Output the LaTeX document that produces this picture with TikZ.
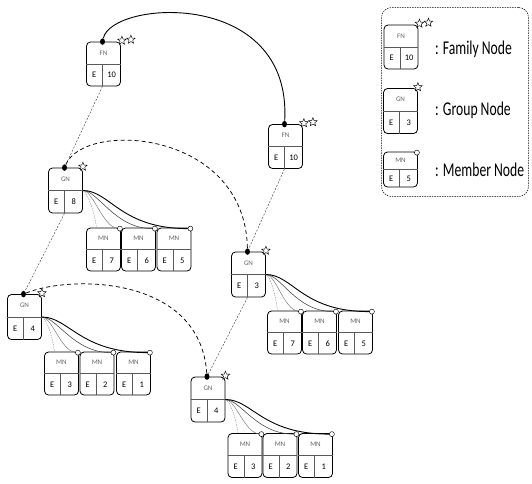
\documentclass[tikz,border=0pt]{standalone}
\usepackage{fontspec}
\setmainfont{Carlito}
\usetikzlibrary{calc,shapes.geometric}

\tikzset{
  card/.style={draw=black, line width=0.8pt, rounded corners=4pt, minimum width=34pt,
    minimum height=45pt, inner sep=0pt, fill=white},
  divline/.style={draw=black!65, line width=0.5pt},
  tag/.style={font=\fontsize{7}{8}\selectfont, text=black!60, inner sep=0pt},
  num/.style={font=\fontsize{8.5}{9}\selectfont, inner sep=0pt},
  headdot/.style={ellipse, fill=black, minimum width=5pt, minimum height=6.5pt, inner sep=0pt},
  badge/.style={star, star points=5, star point ratio=2.3, draw=black, line width=0.45pt,
    fill=white, minimum size=9pt, inner sep=0pt},
  ring/.style={circle, draw=black, line width=0.45pt, fill=white, minimum size=5pt, inner sep=0pt},
  treelink/.style={dash pattern=on 2pt off 1.5pt, line width=0.45pt, black!75},
  peerlink/.style={dash pattern=on 4pt off 3pt, line width=0.75pt},
  famlink/.style={line width=0.9pt},
  fan1/.style={dash pattern=on 1.5pt off 1pt, line width=0.4pt, black!45},
  fan2/.style={line width=0.45pt, black!55},
  fan3/.style={line width=0.55pt, black!75},
  fan4/.style={line width=0.9pt, black},
  legtext/.style={anchor=west, inner sep=0pt, font=\fontsize{19.5}{20}\selectfont},
}

% record box: name, x, y, height, tag, number
\newcommand\recbox[6]{%
  \node[card, minimum height=#4pt] (#1) at (#2,#3) {};
  \draw[divline] (#1.west) -- (#1.east);
  \draw[divline] ([xshift=-1pt]#1.center) -- ([xshift=-1pt]#1.south);
  \node[tag] at ($(#1.north)!0.5!(#1.center)$) {#5};
  \node[num] at ($(#1.south west)!0.5!([xshift=-1pt]#1.center)$) {E};
  \node[num] at ($(#1.south east)!0.5!([xshift=-1pt]#1.center)$) {#6};
}
% family box with two stars
\newcommand\famcard[4]{%
  \recbox{#1}{#2}{#3}{44}{FN}{#4}
  \node[badge] (#1s) at ([xshift=1pt,yshift=1pt]#1.north east) {};
  \node[badge] (#1t) at ([xshift=10pt,yshift=2pt]#1.north east) {};
}
% group box with one star
\newcommand\grpcard[4]{%
  \recbox{#1}{#2}{#3}{45}{GN}{#4}
  \node[badge] (#1s) at ([xshift=0pt,yshift=1pt]#1.north east) {};
}
% family and group nodes of the trees carry a head dot
\newcommand\famnode[4]{%
  \famcard{#1}{#2}{#3}{#4}
  \node[headdot] (#1d) at ([xshift=-1pt]#1.north) {};
}
\newcommand\grpnode[4]{%
  \grpcard{#1}{#2}{#3}{#4}
  \node[headdot] (#1d) at ([xshift=-1pt]#1.north) {};
}
% member node: box with ring on the corner
\newcommand\memnode[5]{%
  \recbox{#1}{#2}{#3}{#4}{MN}{#5}
  \node[ring] (#1c) at ([xshift=-1pt,yshift=-1pt]#1.north east) {};
}
% group node to its three members
\newcommand\fanout[4]{%
  \draw[fan1] (#1.east) .. controls +(5,2) and +(-2,-15) .. ([xshift=-7pt]#2.north);
  \draw[fan2] (#1.east) .. controls +(10,0) and +(-17,-2) .. (#2c);
  \draw[fan3] (#1.east) .. controls +(15,0) and +(-40,0) .. (#3c);
  \draw[fan4] (#1.east) .. controls +(27,0) and +(-70,0) .. (#4c);
}

\begin{document}
\begin{tikzpicture}[x=1pt, y=-1pt]
\useasboundingbox (0,0) rectangle (532,483);

% legend frame
\node[draw, dash pattern=on 1.5pt off 1pt, line width=0.5pt, rounded corners=10pt,
  minimum width=147pt, minimum height=189pt, inner sep=0pt] (legend) at (455,102) {};

% left family
\famnode{fa}{103.5}{64}{10}
\grpnode{ga}{65.5}{190.5}{8}
\memnode{ma1}{103.5}{249.5}{43}{7}
\memnode{ma2}{138.5}{249.5}{43}{6}
\memnode{ma3}{174}{249.5}{43}{5}
\grpnode{gb}{24.5}{317}{4}
\memnode{mb1}{61.5}{373.5}{43}{3}
\memnode{mb2}{97}{373.5}{43}{2}
\memnode{mb3}{133.5}{373.5}{43}{1}

% right family
\famnode{fb}{285.5}{146.5}{10}
\grpnode{gc}{248.5}{274.5}{3}
\memnode{mc1}{284.5}{332.5}{43}{7}
\memnode{mc2}{319.5}{332.5}{43}{6}
\memnode{mc3}{355.5}{332.5}{43}{5}
\grpnode{gd}{208}{399.5}{4}
\memnode{md1}{245}{455.5}{44}{3}
\memnode{md2}{280}{455.5}{44}{2}
\memnode{md3}{315.5}{455.5}{44}{1}

% legend entries
\famcard{lf}{401}{47}{10}
\grpcard{lg}{400.5}{111}{3}
\memnode{lm}{400.5}{169.5}{35}{5}
\node[legtext] (lft) at (435,49) {\scalebox{0.7}[1]{: Family Node}};
\node[legtext] (lgt) at (435,110) {\scalebox{0.7}[1]{: Group Node}};
\node[legtext] (lmt) at (435,170) {\scalebox{0.7}[1]{: Member Node}};

% family to family
\draw[famlink] (fad) .. controls (112,0) and (292,-12) .. (fbd);

% group to group
\draw[peerlink] (gad) .. controls (85,120) and (245,130) .. (gcd);
\draw[peerlink] (gbd) .. controls (70,275) and (200,275) .. (gdd);

% hierarchy links
\draw[treelink] ([xshift=-1pt]fa.south) -- (gad);
\draw[treelink] ([xshift=-1pt]ga.south) -- (gbd);
\draw[treelink] ([xshift=-1pt]fb.south) -- (gcd);
\draw[treelink] ([xshift=-1pt]gc.south) -- (gdd);

% groups to members
\fanout{ga}{ma1}{ma2}{ma3}
\fanout{gb}{mb1}{mb2}{mb3}
\fanout{gc}{mc1}{mc2}{mc3}
\fanout{gd}{md1}{md2}{md3}
\end{tikzpicture}
\end{document}
